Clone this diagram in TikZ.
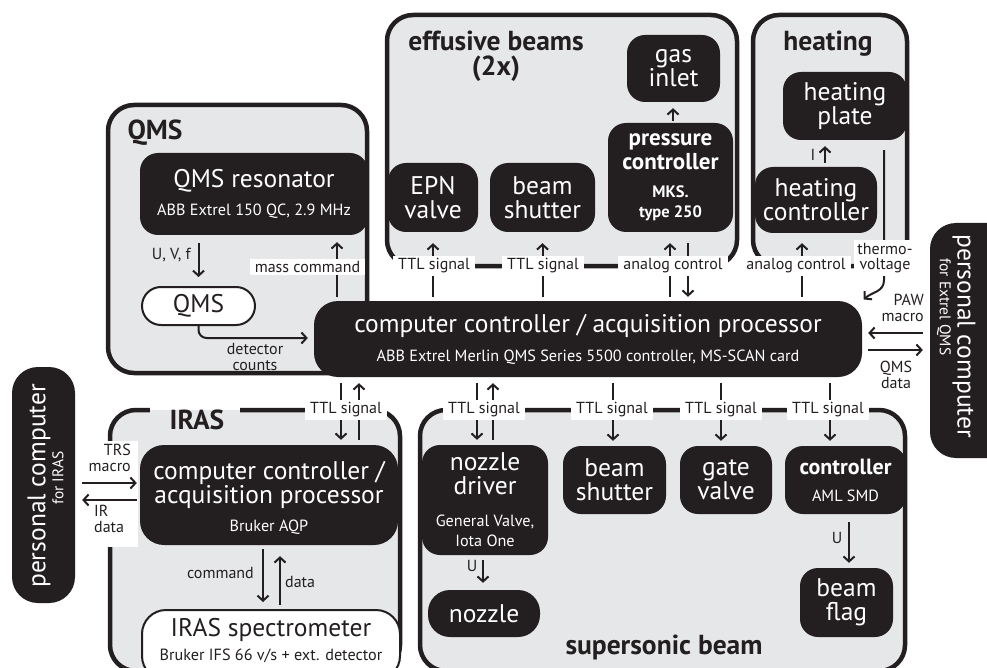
\documentclass[tikz,border=0pt]{standalone}
\usepackage{fontspec}
\setmainfont{PT Sans}
\usetikzlibrary{arrows.meta,calc}
\definecolor{bgray}{HTML}{E6E7E8}
\definecolor{ink}{HTML}{231F20}
\newcommand\fbig{\fontsize{25.5}{24}\selectfont}
\newcommand\fmid{\fontsize{25.5}{24}\selectfont}
\newcommand\fsub{\fontsize{16.2}{17}\selectfont}
\newcommand\flab{\fontsize{16}{15.5}\selectfont}
\newcommand\ftit{\fontsize{27.5}{25}\selectfont\bfseries}
\newcommand\fsmall{\fontsize{15.5}{15}\selectfont}
\newcommand\fpc{\fontsize{23}{24}\selectfont\bfseries}
\newcommand\fpcs{\fontsize{16.5}{17}\selectfont\bfseries}
\tikzset{
  grp/.style={draw=ink, line width=4.5pt, fill=bgray, rounded corners=26pt, inner sep=0pt},
  blk/.style={fill=ink, text=white, rounded corners=18pt, align=center, inner sep=0pt, font=\fbig},
  wht/.style={draw=ink, line width=2pt, fill=white, text=ink, align=center, inner sep=0pt, font=\fbig},
  lbl/.style={fill=white, inner xsep=5pt, inner ysep=2.5pt, font=\flab, align=center, text=ink},
  plain/.style={inner sep=0pt, font=\flab, text=ink},
  tit/.style={font=\ftit, text=ink, inner sep=0pt, align=center},
  arr/.style={draw=ink, line width=2pt, -{Straight Barb[length=5pt,width=11pt]}},
}
\begin{document}
\begin{tikzpicture}[x=1pt,y=-1pt]
\useasboundingbox (0,0) rectangle (987,668);
\fill[white] (0,0) rectangle (987,668);
\clip (0,0) rectangle (987,668);

% helper x / y positions
\coordinate (xMC) at (337,0);
\coordinate (xPa) at (670,0);
\coordinate (xPb) at (688,0);
\coordinate (xHa) at (802,0);
\coordinate (xTV) at (884,0);
\coordinate (tvb) at (884,280);
\coordinate (xG) at (673,0);
\coordinate (xI) at (825,0);
\coordinate (yPAW) at (0,333);
\coordinate (yQD) at (0,350);
\coordinate (yDC) at (0,338);
\coordinate (xI1) at (341,0);
\coordinate (xI2) at (359,0);
\coordinate (xN1) at (477,0);
\coordinate (xN2) at (493,0);
\coordinate (xS) at (613,0);
\coordinate (xGV) at (721,0);
\coordinate (xA) at (830,0);
\coordinate (xU1) at (483,0);
\coordinate (xU2) at (849,0);
\coordinate (xCmd) at (263,0);
\coordinate (xDat) at (280,0);
\coordinate (yTRS) at (0,483);
\coordinate (yIR) at (0,500);

% group boxes
\node[grp, minimum width=259, minimum height=268] (gQMS) at (237.5,239) {};
\node[grp, minimum width=350, minimum height=251] (gEff) at (562,140.5) {};
\node[grp, minimum width=154, minimum height=251] (gHeat) at (830,140.5) {};
\node[grp, minimum width=290, minimum height=261] (gIRAS) at (255,540.5) {};
\node[grp, minimum width=485, minimum height=261] (gSup) at (662.5,540.5) {};

% titles
\node[tit] (tQMS) at (155,133) {QMS};
\node[tit] (tEff) at (496,56) {effusive beams\\(2x)};
\node[tit] (tHeat) at (828,44) {heating};
\fill[white] (150,404) rectangle (240,410);
\fill[bgray] (150,410) rectangle (240,414);
\node[tit] (tIRAS) at (197,420) {IRAS};
\node[tit] (tSup) at (664,647) {supersonic beam};

% QMS group
\node[blk, minimum width=228, minimum height=82] (res) at (254,194)
  {QMS resonator\\[4pt]{\fsub ABB Extrel 150 QC, 2.9 MHz}};
\node[wht, minimum width=113, minimum height=38, rounded corners=19pt] (qms) at (198.5,306) {QMS};

% main controller
\node[blk, minimum width=548, minimum height=76, rounded corners=24pt] (main) at (588,339)
  {{\fmid computer controller / acquisition processor}\\[5pt]{\fsub ABB Extrel Merlin QMS Series 5500 controller, MS-SCAN card}};

% effusive beams
\node[blk, minimum width=90, minimum height=69] (epn) at (433,197.5) {EPN\\valve};
\node[blk, minimum width=105, minimum height=69] (shut1) at (542.5,197.5) {beam\\shutter};
\node[blk, minimum width=125, minimum height=109] (pctl) at (670.5,177.5)
  {{\fpc pressure}\\{\fpc controller}\\[4pt]{\fpcs MKS.}\\[-4pt]{\fpcs type 250}};
\node[blk, minimum width=93, minimum height=67] (gas) at (673.5,68.5) {gas\\inlet};

% heating
\node[blk, minimum width=124, minimum height=68] (hplate) at (845,106) {heating\\plate};
\node[blk, minimum width=122, minimum height=66] (hctrl) at (816,200) {heating\\controller};

% personal computers
\node[blk, minimum width=90, minimum height=235, rounded corners=26pt] (pcR) at (975,340.5) {};
\node[text=white, font=\fbig, rotate=-90, inner sep=0pt] (pcRt1) at (964,336) {personal computer};
\node[text=white, font=\fsmall, rotate=-90, inner sep=0pt] (pcRt2) at (944,307) {for Extrel QMS};
\node[blk, minimum width=63, minimum height=236, rounded corners=26pt] (pcL) at (43.5,485) {};
\node[text=white, font=\fbig, rotate=90, inner sep=0pt] (pcLt1) at (39,486) {personal computer};
\node[text=white, font=\fsmall, rotate=90, inner sep=0pt] (pcLt2) at (58,478) {for IRAS};

% IRAS
\node[blk, minimum width=258, minimum height=100, rounded corners=24pt] (irc) at (269,495) {};
\node[text=white, align=center, inner sep=0pt, font=\fbig] (irct) at (269,498)
  {computer controller /\\acquisition processor\\[4pt]{\fsub Bruker AQP}};
\node[wht, minimum width=258, minimum height=70, rounded corners=24pt] (ispec) at (271,645) {};
\node[text=ink, align=center, inner sep=0pt, font=\fbig] (ispect) at (271,641)
  {IRAS spectrometer\\[0pt]{\fsub Bruker IFS 66 v/s + ext. detector}};

% supersonic beam
\node[blk, minimum width=126, minimum height=110] (ndrv) at (485,500)
  {nozzle\\driver\\[8pt]{\fsub General Valve,}\\[-4pt]{\fsub Iota One}};
\node[blk, minimum width=103, minimum height=68] (shut2) at (614.5,480) {beam\\shutter};
\node[blk, minimum width=92, minimum height=68] (gate) at (726,480) {gate\\valve};
\node[blk, minimum width=121, minimum height=68] (aml) at (845.5,480)
  {{\fontsize{22}{24}\selectfont\bfseries controller}\\[3pt]{\fsub AML SMD}};
\node[blk, minimum width=112, minimum height=47, rounded corners=22pt] (nozzle) at (484,613.5) {nozzle};
\node[blk, minimum width=93, minimum height=69] (flag) at (846.5,602.5) {beam\\flag};

% ---- connectors, top row
\draw[arr, shorten <=4pt, shorten >=7pt] (main.north -| xMC) -- (res.south -| xMC);
\node[lbl] (lMC) at (307.5,267) {mass command};
\draw[arr, shorten <=4pt, shorten >=11pt] (main.north -| epn.south) -- (epn.south);
\node[lbl] (lE1) at (434,266) {TTL signal};
\draw[arr, shorten <=4pt, shorten >=11pt] (main.north -| shut1.south) -- (shut1.south);
\node[lbl] (lE2) at (543,266) {TTL signal};
\draw[arr, shorten <=4pt, shorten >=11pt] (main.north -| xPa) -- (pctl.south -| xPa);
\draw[arr, shorten <=11pt, shorten >=4pt] (pctl.south -| xPb) -- (main.north -| xPb);
\node[lbl] (lE3) at (673,266) {analog control};
\draw[arr, shorten <=4pt, shorten >=10pt] (main.north -| xHa) -- (hctrl.south -| xHa);
\node[lbl] (lH) at (796,266) {analog control};
\draw[arr, shorten >=2pt] ([yshift=-10pt]hplate.south -| xTV) -- (tvb)
  .. controls +(0,12) and +(10,-9) .. (main.north east);
\node[lbl, inner xsep=3pt] (lTV) at (885,258) {thermo-\\voltage};

% inside groups
\draw[arr, shorten <=2pt, shorten >=6pt] (pctl.north -| xG) -- (gas.south -| xG);
\draw[arr, shorten <=4pt, shorten >=6pt] (hctrl.north -| xI) -- (hplate.south -| xI);
\node[plain] (lI) at (813,155) {I};
\draw[arr, shorten <=8pt, shorten >=9pt] (res.south -| qms.north) -- (qms.north);
\node[plain, anchor=east] (lUVf) at (191,255) {U, V, f};
\draw[arr, rounded corners=8pt, shorten >=6pt] (qms.south) |- (main.west |- yDC);
\node[plain, align=center] (lDC) at (255,357) {detector\\counts};

% PC right
\draw[arr, shorten <=7pt, shorten >=6pt] (pcR.west |- yPAW) -- (main.east |- yPAW);
\node[plain, align=right, anchor=east] (lPAW) at (924,308) {PAW\\macro};
\draw[arr, shorten <=6pt, shorten >=7pt] (main.east |- yQD) -- (pcR.west |- yQD);
\node[plain, align=center] (lQD) at (896,375) {QMS\\data};

% bottom row
\draw[arr, shorten <=6pt, shorten >=5pt] (main.south -| xI1) -- (irc.north -| xI1);
\draw[arr, shorten <=5pt, shorten >=6pt] (irc.north -| xI2) -- (main.south -| xI2);
\node[lbl] (lB1) at (346,410) {TTL signal};
\draw[arr, shorten <=6pt, shorten >=5pt] (main.south -| xN1) -- (ndrv.north -| xN1);
\draw[arr, shorten <=5pt, shorten >=6pt] (ndrv.north -| xN2) -- (main.south -| xN2);
\node[lbl] (lB2) at (484,410) {TTL signal};
\draw[arr, shorten <=6pt, shorten >=5pt] (main.south -| xS) -- (shut2.north -| xS);
\node[lbl] (lB3) at (612,410) {TTL signal};
\draw[arr, shorten <=6pt, shorten >=5pt] (main.south -| xGV) -- (gate.north -| xGV);
\node[lbl] (lB4) at (721,410) {TTL signal};
\draw[arr, shorten <=6pt, shorten >=5pt] (main.south -| xA) -- (aml.north -| xA);
\node[lbl] (lB5) at (828,410) {TTL signal};

% supersonic inner
\draw[arr, shorten <=5pt, shorten >=7pt] (ndrv.south -| xU1) -- (nozzle.north -| xU1);
\node[plain] (lU1) at (472,566) {U};
\draw[arr, shorten <=8pt, shorten >=5pt] (aml.south -| xU2) -- (flag.north -| xU2);
\node[plain] (lU2) at (837,538) {U};

% IRAS inner
\draw[arr, shorten <=4pt, shorten >=7pt] (irc.south -| xCmd) -- (ispec.north -| xCmd);
\draw[arr, shorten <=4pt, shorten >=11pt] (ispec.north -| xDat) -- (irc.south -| xDat);
\node[plain, anchor=east] (lCmd) at (254,573) {command};
\node[plain, anchor=west] (lDat) at (285,582) {data};

% PC left
\fill[white] (82,441) rectangle (138,547);
\draw[arr, shorten <=7pt, shorten >=3pt] (pcL.east |- yTRS) -- (irc.west |- yTRS);
\draw[arr, shorten <=3pt, shorten >=7pt] (irc.west |- yIR) -- (pcL.east |- yIR);
\node[plain, align=right, anchor=east] (lTRS) at (131,458) {TRS\\macro};
\node[plain, align=left, anchor=west] (lIR) at (94,519) {IR\\data};
\end{tikzpicture}
\end{document}
